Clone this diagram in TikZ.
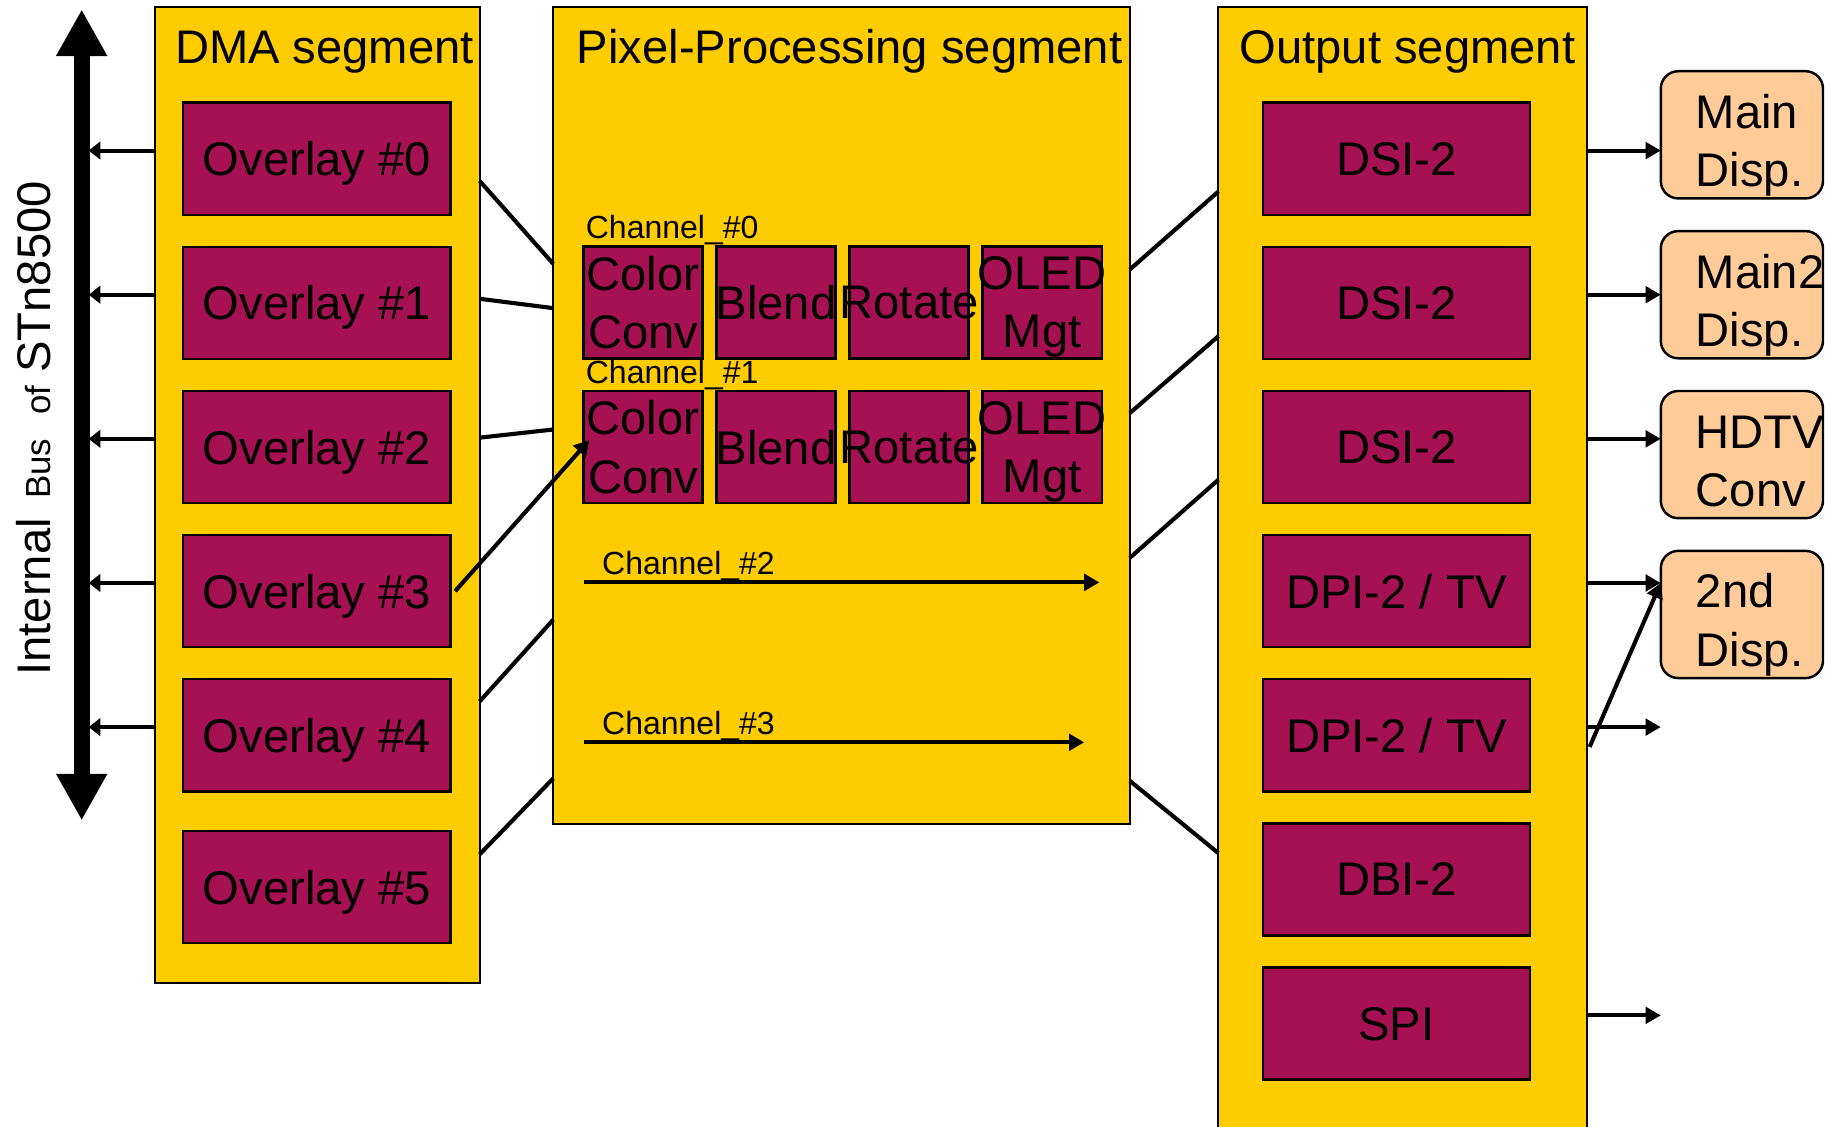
\documentclass[tikz,border=0pt]{standalone}
\usepackage{fontspec}
\setmainfont{Liberation Sans}
\usetikzlibrary{positioning,arrows.meta}
\definecolor{segyellow}{RGB}{255,204,0}
\definecolor{blkred}{RGB}{166,17,82}
\definecolor{dispbg}{RGB}{255,204,153}
\newcommand{\ovr}[1]{\makebox[0pt]{\raisebox{0pt}[\height][0pt]{#1}}}
\newcommand{\nodp}[1]{\raisebox{0pt}[\height][0pt]{#1}}

\begin{document}
\begin{tikzpicture}[x=0.1mm, y=-0.1mm]
    \tikzstyle{every node}=[font=\fontsize{11.5}{14.2}\selectfont, align=center, inner sep=0pt, outer sep=0pt]
    \tikzset{
        seg/.style={draw, line width=0.5pt, fill=segyellow, anchor=north west},
        chb/.style={draw, line width=0.6pt, fill=blkred, minimum width=1.02cm, minimum height=0.96cm},
        blk/.style={chb, minimum width=2.29cm, text depth=0pt},
        disp/.style={draw, line width=0.6pt, fill=dispbg, rounded corners=0.15cm, minimum height=1.09cm, text width=0.79cm, inner xsep=0.3cm, align=left},
        chlabel/.style={font=\fontsize{7.8}{9}\selectfont, anchor=west},
        wire/.style={line width=1pt},
        tip/.style={wire, -{Triangle[length=1.3mm,width=1.4mm]}},
        bustip/.style={wire, -{Triangle[length=1mm,width=1.5mm]}}
    }
    \useasboundingbox (0,0) rectangle (1568,965);
    \clip (0,0) rectangle (1568,965);

    %internal bus
    \coordinate (bustop) at (70,8);
    \coordinate (busbot) at (70,703);
    \coordinate (bus) at (76,366);
    \draw [line width=3.9pt, {Triangle[length=4mm,width=4.1mm]}-{Triangle[length=4mm,width=4.1mm]}] (bustop) -- (busbot);
    \node (buslbl) [rotate=90] at (29,367) {Internal\hspace{1.5pt} {\fontsize{8.5}{10}\selectfont Bus\hspace{3.5pt} of} STn8500};

    %segments
    \node (dma) [seg, minimum width=2.78cm, minimum height=8.36cm] at (133,6) {};
    \node (pps) [seg, minimum width=4.94cm, minimum height=7.0cm] at (474,6) {};
    \node (outseg) [seg, minimum width=3.16cm, minimum height=9.9cm] at (1044,6) {};

    \node (dmat) [anchor=base] at ([xshift=0.06cm, yshift=-0.48cm]dma.north) {DMA segment};
    \node (ppst) [anchor=base] at ([xshift=0.07cm, yshift=-0.48cm]pps.north) {Pixel-Processing segment};
    \node (outt) [anchor=base] at ([xshift=0.04cm, yshift=-0.48cm]outseg.north) {Output segment};

    %overlays
    \node (ov0) [blk, anchor=north west] at (157,88) {Overlay \#0};
    \node (ov1) [blk, below=0.275cm of ov0] {Overlay \#1};
    \node (ov2) [blk, below=0.275cm of ov1] {Overlay \#2};
    \node (ov3) [blk, below=0.275cm of ov2] {Overlay \#3};
    \node (ov4) [blk, below=0.275cm of ov3] {Overlay \#4};
    \node (ov5) [blk, below=0.34cm of ov4] {Overlay \#5};

    %channels
    \node (cc0) [chb, anchor=north west] at (500,211) {\ovr{Color}\\\ovr{Conv}};
    \node (bl0) [chb, right=0.12cm of cc0] {\ovr{Blend}};
    \node (ro0) [chb, right=0.12cm of bl0] {\ovr{Rotate}};
    \node (ol0) [chb, right=0.12cm of ro0] {\ovr{OLED}\\\ovr{Mgt}};

    \node (cc1) [chb, below=0.28cm of cc0] {\ovr{Color}\\\ovr{Conv}};
    \node (bl1) [chb, right=0.12cm of cc1] {\ovr{Blend}};
    \node (ro1) [chb, right=0.12cm of bl1] {\ovr{Rotate}};
    \node (ol1) [chb, right=0.12cm of ro1] {\ovr{OLED}\\\ovr{Mgt}};

    \node (ch0) [chlabel] at (502,197) {Channel\_\#0};
    \node (ch1) [chlabel] at (502,321) {Channel\_\#1};
    \node (ch2) [chlabel] at (516,485) {Channel\_\#2};
    \node (ch3) [chlabel] at (516,622) {Channel\_\#3};

    \coordinate (c2a) at (500,499);
    \coordinate (c2b) at (942,499);
    \coordinate (c3a) at (500,636);
    \coordinate (c3b) at (929,636);

    %outputs
    \node (o0) [blk, anchor=north west] at (1082,88) {DSI-2};
    \node (o1) [blk, below=0.275cm of o0] {DSI-2};
    \node (o2) [blk, below=0.275cm of o1] {DSI-2};
    \node (o3) [blk, below=0.275cm of o2] {DPI-2 / TV};
    \node (o4) [blk, below=0.275cm of o3] {DPI-2 / TV};
    \node (o5) [blk, below=0.275cm of o4] {DBI-2};
    \node (o6) [blk, below=0.275cm of o5] {SPI};

    %displays
    \node (mainA) [disp, anchor=north west] at (1423,61) {\rule{0pt}{11pt}Main\\\nodp{Disp.}};
    \node (mainB) [disp, below=0.28cm of mainA] {\rule{0pt}{11pt}Main2\\\nodp{Disp.}};
    \node (hdtv) [disp, below=0.28cm of mainB] {\rule{0pt}{11pt}HDTV\\\nodp{Conv}};
    \node (scnd) [disp, below=0.28cm of hdtv] {\rule{0pt}{11pt}2nd\\\nodp{Disp.}};

    %ports
    \coordinate (d0) at (411,155);
    \coordinate (d1) at (411,256);
    \coordinate (d2) at (411,375);
    \coordinate (d4) at (411,601);
    \coordinate (d5) at (411,732);
    \coordinate (p0) at (474,226);
    \coordinate (p1) at (474,264);
    \coordinate (p2) at (474,368);
    \coordinate (p4) at (474,531);
    \coordinate (p5) at (474,667);
    \coordinate (q0) at (968,231);
    \coordinate (q1) at (968,354);
    \coordinate (q2) at (968,478);
    \coordinate (q3) at (968,669);
    \coordinate (r0) at (1044,164);
    \coordinate (r1) at (1044,288);
    \coordinate (r2) at (1044,411);
    \coordinate (r3) at (1044,731);

    % to the bus
    \draw[bustip] ([yshift=0.07cm]dma.west |- ov0) -- ([yshift=0.07cm]bus |- ov0);
    \draw[bustip] ([yshift=0.07cm]dma.west |- ov1) -- ([yshift=0.07cm]bus |- ov1);
    \draw[bustip] ([yshift=0.07cm]dma.west |- ov2) -- ([yshift=0.07cm]bus |- ov2);
    \draw[bustip] ([yshift=0.07cm]dma.west |- ov3) -- ([yshift=0.07cm]bus |- ov3);
    \draw[bustip] ([yshift=0.07cm]dma.west |- ov4) -- ([yshift=0.07cm]bus |- ov4);

    % dma to pixel processing
    \draw[wire] (d0) -- (p0);
    \draw[wire] (d1) -- (p1);
    \draw[wire] (d2) -- (p2);
    \draw[wire] (d4) -- (p4);
    \draw[wire] (d5) -- (p5);
    \draw[tip] ([xshift=0.04cm]ov3.east) -- ([xshift=0.05cm, yshift=0.06cm]cc1.west);

    \draw[tip] (c2a) -- (c2b);
    \draw[tip] (c3a) -- (c3b);

    % pixel processing to output
    \draw[wire] (q0) -- (r0);
    \draw[wire] (q1) -- (r1);
    \draw[wire] (q2) -- (r2);
    \draw[wire] (q3) -- (r3);

    % output to displays
    \draw[tip] ([yshift=0.07cm]outseg.east |- o0) -- ([yshift=0.07cm]mainA.west |- o0);
    \draw[tip] ([yshift=0.07cm]outseg.east |- o1) -- ([yshift=0.07cm]mainB.west |- o1);
    \draw[tip] ([yshift=0.07cm]outseg.east |- o2) -- ([yshift=0.07cm]hdtv.west |- o2);
    \draw[tip] ([yshift=0.07cm]outseg.east |- o3) -- ([yshift=0.07cm]scnd.west |- o3);
    \draw[tip] ([yshift=0.07cm]outseg.east |- o4) -- ([yshift=0.07cm]scnd.west |- o4);
    \draw[tip] ([yshift=0.07cm]outseg.east |- o6) -- ([yshift=0.07cm]scnd.west |- o6);
    \draw[tip] ([xshift=0.02cm, yshift=-0.1cm]outseg.east |- o4) -- ([yshift=0.07cm]scnd.west |- o3);
\end{tikzpicture}
\end{document}
